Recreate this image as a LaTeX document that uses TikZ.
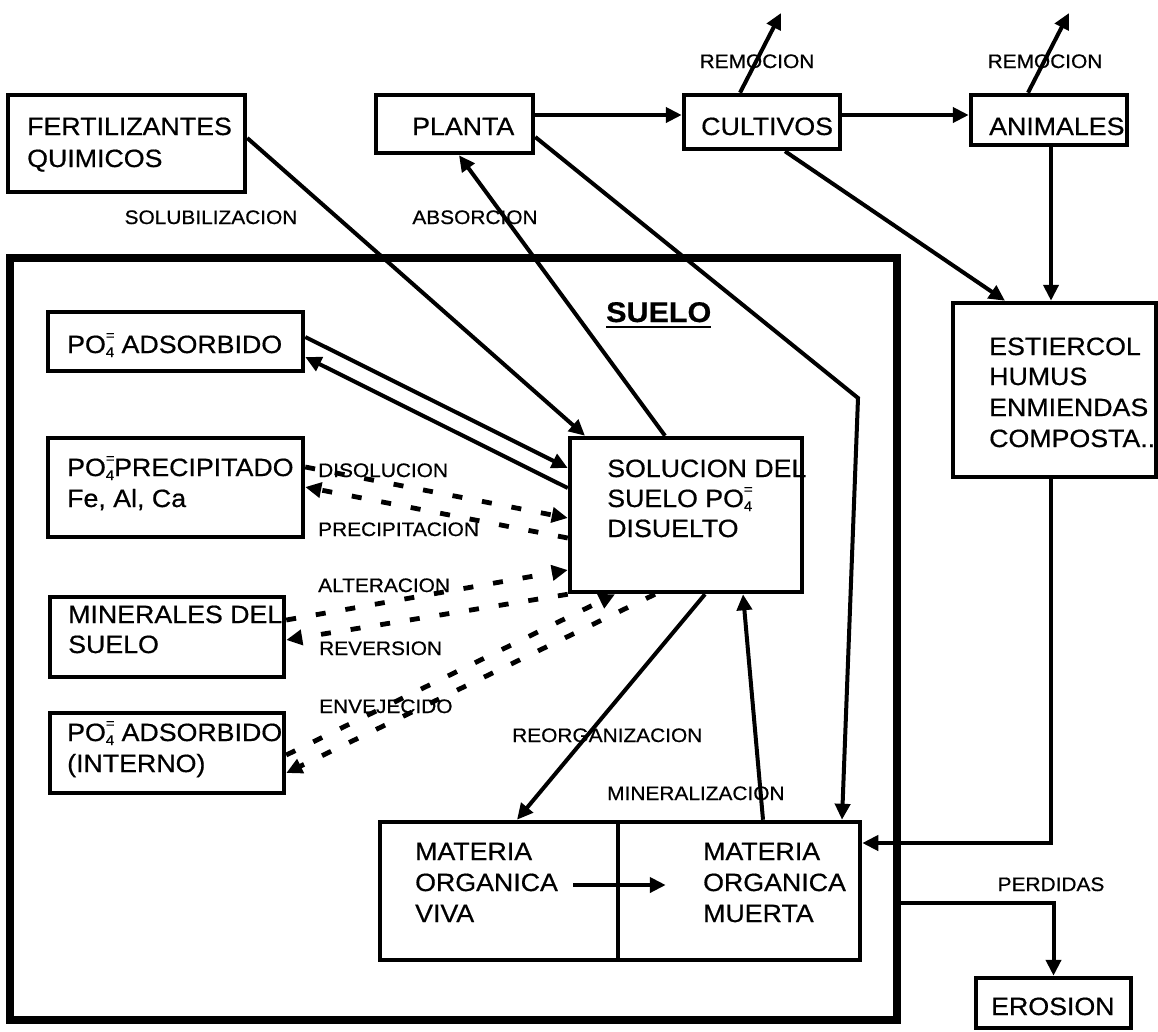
\documentclass[tikz,border=0pt]{standalone}
\usepackage{fontspec}
\setmainfont{Liberation Sans}[FakeStretch=1.07,FakeBold=0.6]
\usetikzlibrary{arrows.meta,calc}
\newcommand\mainsz{\fontsize{25}{30}\selectfont}
\newcommand\labsz{\fontsize{19.5}{23}\selectfont}
\newcommand\pofour{PO\rlap{\raisebox{0.52em}{\fontsize{14}{14}\selectfont =}}\raisebox{-0.16em}{\fontsize{14}{14}\selectfont 4}}
\tikzset{
  box/.style={draw, line width=4.5pt, inner sep=0pt, rectangle},
  tx/.style={inner sep=0pt, anchor=base west, font=\mainsz},
  lab/.style={inner sep=0pt, anchor=base west, font=\labsz},
  labc/.style={inner sep=0pt, anchor=base, font=\labsz},
  conn/.style={line width=4pt, -{Triangle[length=16pt,width=15pt]}},
  dconn/.style={line width=4.8pt, dash pattern=on 10pt off 20pt, -{Triangle[length=16pt,width=15pt]}},
}
\begin{document}
\begin{tikzpicture}[x=1pt,y=-1pt]
\useasboundingbox (0,0) rectangle (1158,1031);
\fill[white] (0,0) rectangle (1158,1031);

% boxes
\node[box, line width=7.5pt, minimum width=887pt, minimum height=762pt] (suelo) at (453.5,639) {};
\node[box, minimum width=237pt, minimum height=97pt] (fert) at (126.5,143.5) {};
\node[box, minimum width=157pt, minimum height=58pt] (planta) at (454.5,124) {};
\node[box, minimum width=156pt, minimum height=54pt] (cultivos) at (762,122) {};
\node[box, minimum width=156pt, minimum height=50pt] (animales) at (1049,120) {};
\node[box, minimum width=203pt, minimum height=174pt] (estiercol) at (1054.5,390) {};
\node[box, minimum width=255pt, minimum height=59pt] (ads) at (175.5,341.5) {};
\node[box, minimum width=255pt, minimum height=99pt] (precip) at (175.5,487.5) {};
\node[box, minimum width=234pt, minimum height=80pt] (minerales) at (167,637) {};
\node[box, minimum width=234pt, minimum height=80pt] (interno) at (167,753) {};
\node[box, minimum width=232pt, minimum height=154pt] (solucion) at (686,515) {};
\node[box, minimum width=238pt, minimum height=138pt] (mviva) at (499,891) {};
\node[box, minimum width=242pt, minimum height=138pt] (mmuerta) at (739,891) {};
\node[box, minimum width=155pt, minimum height=50pt] (erosion) at (1053.5,1003) {};

% box texts
\node[tx] (fert1) at (27,135) {FERTILIZANTES};
\node[tx] (fert2) at (27,167) {QUIMICOS};
\node[tx] (planta1) at (412,135) {PLANTA};
\node[tx] (cult1) at (701,135) {CULTIVOS};
\node[tx] (anim1) at (989,135) {ANIMALES};
\node[tx] (est1) at (989,355) {ESTIERCOL};
\node[tx] (est2) at (989,385) {HUMUS};
\node[tx] (est3) at (989,416) {ENMIENDAS};
\node[tx] (est4) at (989,447) {COMPOSTA..};
\node[tx] (ads1) at (67,353) {\pofour{} ADSORBIDO};
\node[tx] (prec1) at (67,476) {\pofour PRECIPITADO};
\node[tx] (prec2) at (67,507) {Fe, Al, Ca};
\node[tx] (min1) at (68,623) {MINERALES DEL};
\node[tx] (min2) at (68,653) {SUELO};
\node[tx] (int1) at (67,741) {\pofour{} ADSORBIDO};
\node[tx] (int2) at (67,772) {(INTERNO)};
\node[tx] (sol1) at (607,477) {SOLUCION DEL};
\node[tx] (sol2) at (607,507) {SUELO \pofour};
\node[tx] (sol3) at (607,537) {DISUELTO};
\node[tx] (viva1) at (415,860) {MATERIA};
\node[tx] (viva2) at (415,891) {ORGANICA};
\node[tx] (viva3) at (415,922) {VIVA};
\node[tx] (muer1) at (703,860) {MATERIA};
\node[tx] (muer2) at (703,891) {ORGANICA};
\node[tx] (muer3) at (703,922) {MUERTA};
\node[tx] (eros1) at (991,1015) {EROSION};
\node[inner sep=0pt, anchor=base west, font=\fontsize{28.5}{34}\selectfont\bfseries] (suelolab) at (606,322) {SUELO};
\draw[line width=2.8pt] ([yshift=-5pt]suelolab.base west) -- ([yshift=-5pt]suelolab.base east);

% labels
\node[labc] (l-solub) at (211,224) {SOLUBILIZACION};
\node[labc] (l-absor) at (475,224) {ABSORCION};
\node[labc] (l-rem1) at (757,68) {REMOCION};
\node[labc] (l-rem2) at (1045,68) {REMOCION};
\node[lab] (l-disol) at (318,477) {DISOLUCION};
\node[lab] (l-precip) at (318,536) {PRECIPITACION};
\node[lab] (l-alter) at (318,592) {ALTERACION};
\node[lab] (l-rever) at (319,655) {REVERSION};
\node[lab] (l-envej) at (319,713) {ENVEJECIDO};
\node[lab] (l-reorg) at (512,742) {REORGANIZACION};
\node[lab] (l-miner) at (607,800) {MINERALIZACION};
\node[labc] (l-perd) at (1051,891) {PERDIDAS};

% free ends
\coordinate (rem1end) at (781,13);
\coordinate (rem2end) at (1069,13);

% connectors
\draw[conn] (planta.east |- 0,115) -- (cultivos.west |- 0,115);
\draw[conn] (cultivos.east |- 0,115) -- (animales.west |- 0,115);
\draw[conn] (740,0 |- cultivos.north) -- (rem1end);
\draw[conn] (1028,0 |- animales.north) -- (rem2end);
\draw[conn] (785,0 |- cultivos.south) -- (1005,0 |- estiercol.north);
\draw[conn] (1051,0 |- animales.south) -- (1051,0 |- estiercol.north);
\draw[conn] (fert.east |- 0,138) -- (585,0 |- solucion.north);
\draw[conn] (665,0 |- solucion.north) -- (459,0 |- planta.south);
\draw[conn] (planta.east |- 0,137) -- (858,398) -- (842,0 |- mmuerta.north);
\draw[conn] (ads.east |- 0,337) -- (solucion.west |- 0,468);
\draw[conn] (solucion.west |- 0,488) -- (ads.east |- 0,357);
\draw[dconn] (precip.east |- 0,467) -- (solucion.west |- 0,518);
\draw[dconn] (solucion.west |- 0,538) -- (precip.east |- 0,487);
\draw[dconn] (minerales.east |- 0,620) -- (solucion.west |- 0,570);
\draw[dconn] (solucion.south west) -- (minerales.east |- 0,640);
\draw[dconn] (interno.east |- 0,755) -- (615,0 |- solucion.south);
\draw[dconn] (655,0 |- solucion.south) -- (interno.east |- 0,773);
\draw[conn] (705,0 |- solucion.south) -- (517,0 |- mviva.north);
\draw[conn] (763,0 |- mmuerta.north) -- (743,0 |- solucion.south);
\draw[conn] ($(mviva.east)+(-47,-6)$) -- ($(mmuerta.west)+(50,-6)$);
\draw[conn] (1051,0 |- estiercol.south) |- (mmuerta.east |- 0,843);
\draw[conn] (suelo.east |- 0,903) -| (erosion.north);
\end{tikzpicture}
\end{document}
